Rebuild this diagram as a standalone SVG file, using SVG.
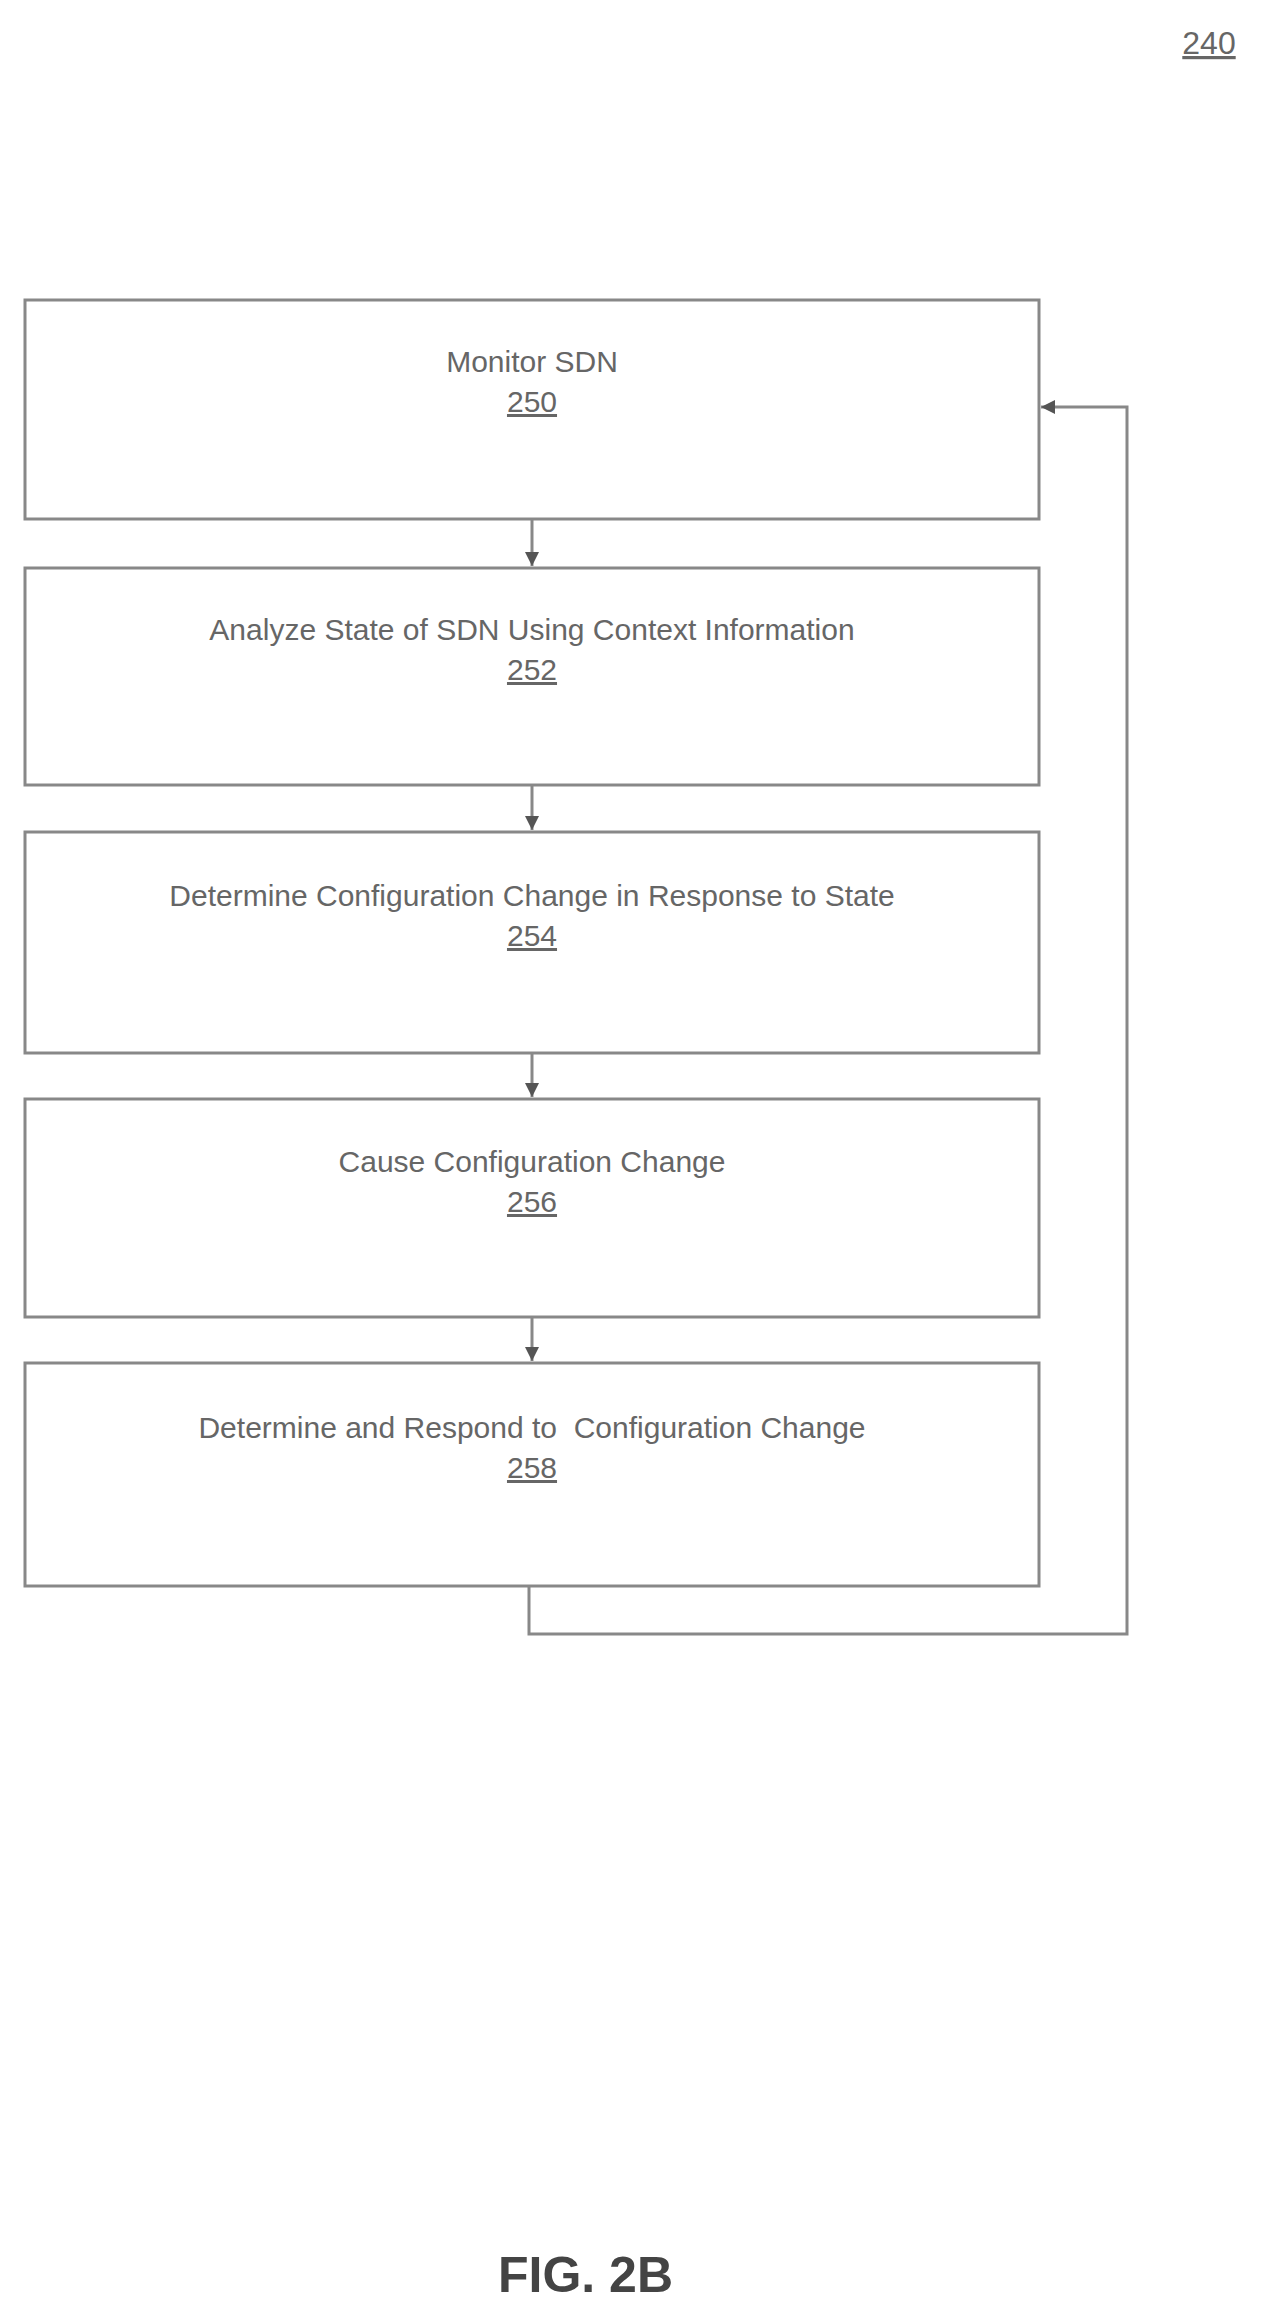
<svg xmlns="http://www.w3.org/2000/svg" width="1273" height="2309" viewBox="0 0 1273 2309">
<style>
.b{fill:#fff;stroke:#888;stroke-width:3}
.t{font-family:"Liberation Sans",Arial,sans-serif;font-size:30px;fill:#666;text-anchor:middle}
.n{text-decoration:underline}
.c{fill:none;stroke:#888;stroke-width:3}
</style>
<defs><marker id="a" markerWidth="16" markerHeight="16" refX="14" refY="7" orient="auto" markerUnits="userSpaceOnUse"><path d="M0,0L14,7L0,14z" fill="#555"/></marker></defs>
<rect width="1273" height="2309" fill="#fff"/>
<text class="t n" x="1209" y="54" style="font-size:32px">240</text>
<g id="n250"><rect class="b" x="25" y="300" width="1014" height="219"/><text class="t" x="532" y="372">Monitor SDN</text><text class="t n" x="532" y="412">250</text></g>
<g id="n252"><rect class="b" x="25" y="568" width="1014" height="217"/><text class="t" x="532" y="640">Analyze State of SDN Using Context Information</text><text class="t n" x="532" y="680">252</text></g>
<g id="n254"><rect class="b" x="25" y="832" width="1014" height="221"/><text class="t" x="532" y="906">Determine Configuration Change in Response to State</text><text class="t n" x="532" y="946">254</text></g>
<g id="n256"><rect class="b" x="25" y="1099" width="1014" height="218"/><text class="t" x="532" y="1172">Cause Configuration Change</text><text class="t n" x="532" y="1212">256</text></g>
<g id="n258"><rect class="b" x="25" y="1363" width="1014" height="223"/><text class="t" x="532" y="1438" xml:space="preserve">Determine and Respond to  Configuration Change</text><text class="t n" x="532" y="1478">258</text></g>
<g id="connectors">
<line class="c" x1="532" y1="519" x2="532" y2="566" marker-end="url(#a)"/>
<line class="c" x1="532" y1="785" x2="532" y2="830" marker-end="url(#a)"/>
<line class="c" x1="532" y1="1053" x2="532" y2="1097" marker-end="url(#a)"/>
<line class="c" x1="532" y1="1317" x2="532" y2="1361" marker-end="url(#a)"/>
<polyline class="c" points="529,1586 529,1634 1127,1634 1127,407 1041,407" marker-end="url(#a)"/>
</g>
<text x="498" y="2292" style="font-family:'Liberation Sans',Arial,sans-serif;font-size:50px;fill:#444;font-weight:bold">FIG. 2B</text>
</svg>
